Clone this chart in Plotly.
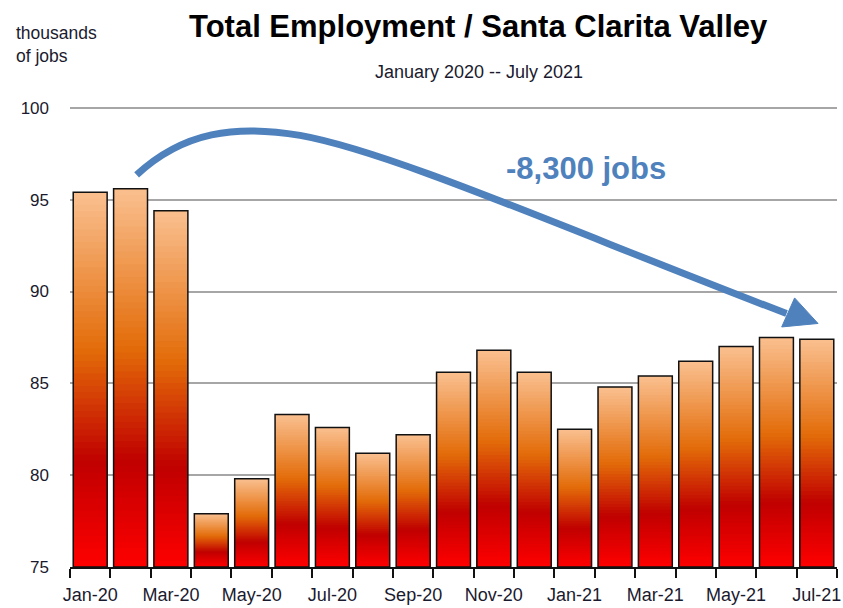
import plotly.graph_objects as go

months = ["Jan-20", "Feb-20", "Mar-20", "Apr-20", "May-20", "Jun-20", "Jul-20",
          "Aug-20", "Sep-20", "Oct-20", "Nov-20", "Dec-20", "Jan-21", "Feb-21",
          "Mar-21", "Apr-21", "May-21", "Jun-21", "Jul-21"]
jobs = [95.4, 95.6, 94.4, 77.9, 79.8, 83.3, 82.6, 81.2, 82.2, 85.6, 86.8, 85.6,
        82.5, 84.8, 85.4, 86.2, 87.0, 87.5, 87.4]
y_ticks = [75, 80, 85, 90, 95, 100]
base_val = 75

FONT = "Liberation Sans, Arial, sans-serif"
BLUE = "#4F81BD"
TXT = "#1a1a2e"

idx = list(range(len(months)))

# gradient stops (fraction from bottom, rgb)
stops = [(0.0, (255, 0, 0)), (0.28, (192, 0, 0)), (0.58, (227, 108, 9)), (1.0, (250, 192, 144))]


def grad(f):
    for (f0, c0), (f1, c1) in zip(stops[:-1], stops[1:]):
        if f0 <= f <= f1:
            t = (f - f0) / (f1 - f0)
            return "rgb(%d,%d,%d)" % tuple(round(a + (b - a) * t) for a, b in zip(c0, c1))
    return "rgb(%d,%d,%d)" % stops[-1][1]


fig = go.Figure()
N = 60
# tallest first, each shorter bar painted over the lower part -> no seams
for k in range(N):
    frac = (N - k) / N
    fig.add_trace(go.Bar(
        x=idx, y=[(v - base_val) * frac for v in jobs], base=[base_val] * len(jobs),
        marker=dict(color=grad((N - k - 0.5) / N), line=dict(width=0)),
        hoverinfo="skip", showlegend=False))

# outline
fig.add_trace(go.Bar(
    x=idx, y=[v - base_val for v in jobs], base=[base_val] * len(jobs),
    marker=dict(color="rgba(0,0,0,0)", line=dict(color="#111", width=1.5)),
    customdata=months, hovertemplate="%{customdata}: %{y:.1f}<extra></extra>",
    showlegend=False))

# curved arrow (decoration)
fig.add_shape(type="path", xref="x", yref="y",
              path="M 1.15,96.35 C 2.3,98.7 3.6,99.1 5.2,98.5 C 7.5,97.6 12,93.2 17.25,88.8",
              line=dict(color=BLUE, width=7), layer="above")
fig.add_shape(type="path", xref="x", yref="y",
              path="M 18.03,88.26 L 17.45,89.65 L 17.13,88.07 Z",
              fillcolor=BLUE, line=dict(color=BLUE, width=1), layer="above")

H = 461.0


def py(p):
    return (567 - p) / H


fig.update_layout(
    width=843, height=608,
    margin=dict(l=70, r=2, t=106, b=41),
    paper_bgcolor="white", plot_bgcolor="white",
    barmode="overlay", bargap=0.16,
    font=dict(family=FONT, color=TXT, size=17),
    xaxis=dict(range=[-0.5, 18.5], tickmode="array", tickvals=idx[::2], ticktext=months[::2],
               ticks="", showline=True, linecolor="#111", linewidth=1.5, showgrid=False,
               zeroline=False, ticklabelstandoff=11, ticklabeloverflow="allow",
               minor=dict(ticks="outside", tick0=-0.5, dtick=1, ticklen=9, tickwidth=1.5,
                          tickcolor="#111", showgrid=False),
               tickfont=dict(size=18, family=FONT, color=TXT)),
    yaxis=dict(range=[75, 100.1], tickmode="array", tickvals=y_ticks, showline=False,
               gridcolor="#A6A6A6", gridwidth=2, zeroline=False, ticks="",
               ticklabelstandoff=20, tickfont=dict(size=17, family=FONT, color=TXT)),
    annotations=[
        dict(text="<b>Total Employment / Santa Clarita Valley</b>", xref="paper", yref="paper",
             x=(481 - 70) / 771, y=py(27), xanchor="center", yanchor="middle",
             showarrow=False, font=dict(size=31, family=FONT, color="#000")),
        dict(text="January 2020 -- July 2021", xref="paper", yref="paper",
             x=(481 - 70) / 771, y=py(72), xanchor="center", yanchor="middle",
             showarrow=False, font=dict(size=18, family=FONT, color=TXT)),
        dict(text="thousands<br>of jobs", xref="paper", yref="paper", align="left",
             x=(14 - 70) / 771, y=py(45), xanchor="left", yanchor="middle",
             showarrow=False, font=dict(size=17.5, family=FONT, color=TXT)),
        dict(text="<b>-8,300 jobs</b>", xref="paper", yref="paper",
             x=(589 - 70) / 771, y=py(168), xanchor="center", yanchor="middle",
             showarrow=False, font=dict(size=31, family=FONT, color=BLUE)),
    ],
)

fig.write_html("out.html")
